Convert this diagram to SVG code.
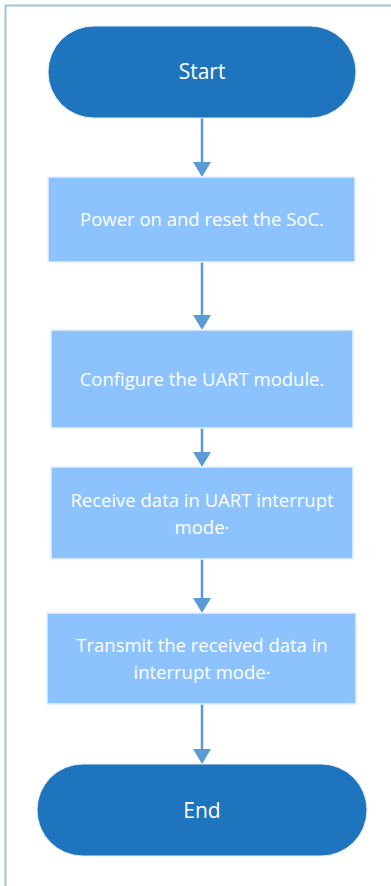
<svg xmlns="http://www.w3.org/2000/svg" width="391" height="886" viewBox="0 0 391 886">
<style>
.term{fill:#1e74bd;stroke:#e6eef7;stroke-width:1}
.box{fill:#8cc3fe;stroke:#e8f0fa;stroke-width:1.5}
.tt{font-family:"Open Sans","Liberation Sans",sans-serif;font-size:21px;fill:#ffffff;text-anchor:middle}
.bt{font-family:"Open Sans","Liberation Sans",sans-serif;font-size:18.5px;fill:#ffffff;text-anchor:middle}
.conn{stroke:#5b9bd5;stroke-width:2.5;fill:none}
.head{fill:#5b9bd5}
.frame{stroke:#9dc3e6;stroke-width:2;fill:none}
</style>
<rect width="391" height="886" fill="#ffffff"/>
<path class="frame" d="M5.5,886 V5.5 H391"/>
<g id="connectors">
<line class="conn" x1="202" y1="118" x2="202" y2="164"/>
<polygon class="head" points="193,162 211,162 202,177"/>
<line class="conn" x1="202" y1="262" x2="202" y2="317"/>
<polygon class="head" points="193,315 211,315 202,330"/>
<line class="conn" x1="202" y1="428" x2="202" y2="454"/>
<polygon class="head" points="193,452 211,452 202,467"/>
<line class="conn" x1="202" y1="559" x2="202" y2="600"/>
<polygon class="head" points="193,598 211,598 202,613"/>
<line class="conn" x1="202" y1="704" x2="202" y2="751"/>
<polygon class="head" points="193,749 211,749 202,764"/>
</g>
<g id="start">
<rect class="term" x="48" y="26" width="308" height="92" rx="46"/>
<text class="tt" x="202" y="79">Start</text>
</g>
<g id="power">
<rect class="box" x="48" y="177" width="307" height="85"/>
<text class="bt" x="202" y="226">Power on and reset the SoC.</text>
</g>
<g id="configure">
<rect class="box" x="51" y="330" width="302" height="98"/>
<text class="bt" x="202" y="386">Configure the UART module.</text>
</g>
<g id="receive">
<rect class="box" x="51" y="467" width="302" height="92"/>
<text class="bt" x="202" y="507">Receive data in UART interrupt</text>
<text class="bt" x="202" y="534">mode·</text>
</g>
<g id="transmit">
<rect class="box" x="47" y="613" width="309" height="91"/>
<text class="bt" x="202" y="652">Transmit the received data in</text>
<text class="bt" x="202" y="679">interrupt mode·</text>
</g>
<g id="end">
<rect class="term" x="37" y="764" width="330" height="92" rx="46"/>
<text class="tt" x="202" y="818">End</text>
</g>
</svg>
